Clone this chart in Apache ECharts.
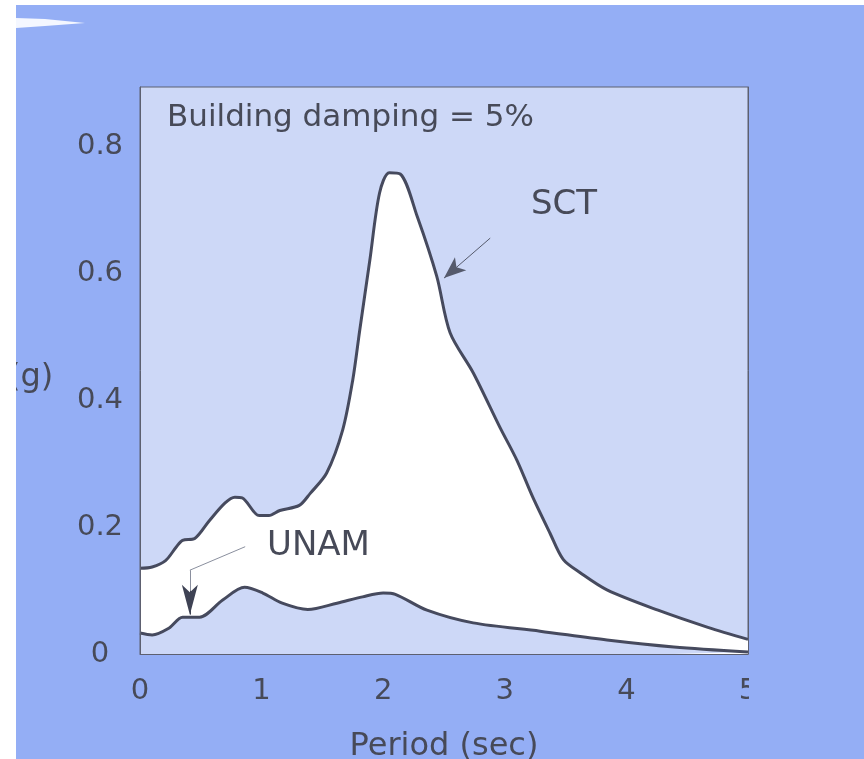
<!DOCTYPE html>
<html>
<head>
<meta charset="utf-8">
<script src="https://cdn.jsdelivr.net/npm/echarts@6/dist/echarts.min.js"></script>
<style>
html,body{margin:0;padding:0;background:#94aef5;}
#c{width:864px;height:759px;}
</style>
</head>
<body>
<div id="c"></div>
<script>
// Period (sec) and spectral acceleration (g)
const sctPeriod = [0, 0.1, 0.21, 0.3, 0.35, 0.45, 0.57, 0.7, 0.78, 0.84, 0.98, 1.06, 1.15, 1.31, 1.4, 1.535, 1.667, 1.75, 1.807, 1.89, 1.97, 2.05, 2.14, 2.28, 2.44, 2.55, 2.74, 2.96, 3.10, 3.23, 3.37, 3.48, 3.62, 3.84, 4.26, 4.67, 5.0];
const sctAccel  = [0.135, 0.137, 0.147, 0.169, 0.179, 0.182, 0.210, 0.238, 0.247, 0.246, 0.218, 0.218, 0.226, 0.234, 0.253, 0.285, 0.353, 0.432, 0.510, 0.620, 0.726, 0.758, 0.756, 0.689, 0.595, 0.506, 0.443, 0.357, 0.305, 0.247, 0.191, 0.149, 0.128, 0.101, 0.069, 0.042, 0.023];
const unamPeriod = [0, 0.1, 0.24, 0.35, 0.49, 0.68, 0.86, 1.01, 1.17, 1.38, 1.62, 1.83, 2.0, 2.1, 2.36, 2.74, 3.29, 3.84, 4.39, 5.0];
const unamAccel  = [0.033, 0.030, 0.041, 0.058, 0.058, 0.085, 0.105, 0.096, 0.080, 0.070, 0.080, 0.090, 0.096, 0.094, 0.069, 0.049, 0.036, 0.022, 0.011, 0.003];
const xTicks = [0, 1, 2, 3, 4, 5];
const yTickLabels = ['0', '0.2', '0.4', '0.6', '0.8'];
const titleText = 'Building damping = 5%';
const xName = 'Period (sec)';
const yName = '(g)';
const sctName = 'SCT';
const unamName = 'UNAM';

const FONT = '"DejaVu Sans", "Liberation Sans", sans-serif';
const TXT = '#474a58';
const LINE = '#464a5e';
const PLOT = '#cdd8f7';
const BG = '#94aef5';

const sctData = sctPeriod.map((t, i) => [t, sctAccel[i]]);
const unamData = unamPeriod.map((t, i) => [t, unamAccel[i]]);

const chart = echarts.init(document.getElementById('c'), null, {renderer: 'canvas'});
const yMax = 0.893;
const option = {
  backgroundColor: BG,
  animation: false,
  grid: {left: 140, right: 116, top: 87, bottom: 105, outerBoundsMode: 'none', containLabel: false,
    show: true, backgroundColor: PLOT, borderColor: '#5d6070', borderWidth: 1},
  xAxis: {
    type: 'value', min: 0, max: 5, interval: 1, z: 10,
    axisLine: {show: true, lineStyle: {color: '#5d6070', width: 1}},
    axisTick: {show: false}, splitLine: {show: false},
    axisLabel: {fontFamily: FONT, fontSize: 29, color: TXT, margin: 23,
      formatter: v => xTicks.indexOf(v) >= 0 ? String(v) : ''},
    name: xName, nameLocation: 'middle', nameGap: 77,
    nameTextStyle: {fontFamily: FONT, fontSize: 32, color: TXT}
  },
  yAxis: [{
    type: 'value', min: 0, max: yMax, interval: 0.2, z: 10,
    axisLine: {show: true, lineStyle: {color: '#5d6070', width: 1}},
    axisTick: {show: false}, splitLine: {show: false},
    axisLabel: {fontFamily: FONT, fontSize: 29, color: TXT, margin: 40, align: 'center', showMaxLabel: false,
      formatter: v => { const i = Math.round(v / 0.2); return Math.abs(v - i * 0.2) < 1e-6 && i < yTickLabels.length ? yTickLabels[i] : ''; }}
  }, {
    type: 'value', position: 'right', min: 0, max: yMax, z: 10,
    axisLine: {show: true, lineStyle: {color: '#5d6070', width: 1}},
    axisTick: {show: false}, axisLabel: {show: false}, splitLine: {show: false}
  }],
  series: [{
    name: sctName, type: 'line', data: sctData, smooth: 0.3, symbol: 'none', z: 2,
    lineStyle: {color: LINE, width: 3},
    areaStyle: {color: '#ffffff', opacity: 1},
    markLine: {
      silent: true, animation: false, label: {show: false},
      symbol: ['none', 'arrow'], symbolSize: [13, 22],
      lineStyle: {type: 'solid', color: '#a4aac0', width: 1},
      data: [[{coord: [2.88, 0.655], symbol: 'none'}, {coord: [2.50, 0.592], symbol: 'arrow', lineStyle: {color: '#555a6c'}}]]
    }
  }, {
    name: unamName, type: 'line', data: unamData, smooth: 0.3, symbol: 'none', z: 3,
    lineStyle: {color: LINE, width: 3},
    areaStyle: {color: PLOT, opacity: 1},
    markLine: {
      silent: true, animation: false, label: {show: false},
      symbol: ['none', 'none'],
      lineStyle: {type: 'solid', color: '#8a8f9e', width: 1},
      data: [
        [{coord: [0.865, 0.169]}, {coord: [0.41, 0.132]}],
        [{coord: [0.41, 0.132]}, {coord: [0.41, 0.10]}],
        [{coord: [0.41, 0.10], symbol: 'none', lineStyle: {color: '#3e4254', width: 1}}, {coord: [0.41, 0.062], symbol: 'arrow', symbolSize: [12, 30]}]
      ]
    }
  }],
  graphic: [
    {type: 'text', left: 167, top: 102, z: 50, style: {text: titleText, font: '31px ' + FONT, fill: TXT}},
    {type: 'text', left: 531, top: 188, z: 50, style: {text: sctName, font: '34px ' + FONT, fill: TXT}},
    {type: 'text', left: 267, top: 529, z: 50, style: {text: unamName, font: '34px ' + FONT, fill: TXT}},
    {type: 'text', left: 8, top: 362, z: 50, style: {text: yName, font: '32px ' + FONT, fill: TXT}},
    {type: 'rect', shape: {x: 749, y: 668, width: 30, height: 50}, z: 60, style: {fill: BG}},
    {type: 'rect', shape: {x: 0, y: 0, width: 16, height: 759}, z: 100, style: {fill: '#ffffff'}},
    {type: 'rect', shape: {x: 0, y: 0, width: 864, height: 5}, z: 100, style: {fill: '#ffffff'}},
    {type: 'polygon', shape: {points: [[16, 18], [45, 19], [85, 23], [45, 26], [16, 28]]}, z: 100, style: {fill: '#f4f7ff'}}
  ]
};
chart.setOption(option);
</script>
</body>
</html>
